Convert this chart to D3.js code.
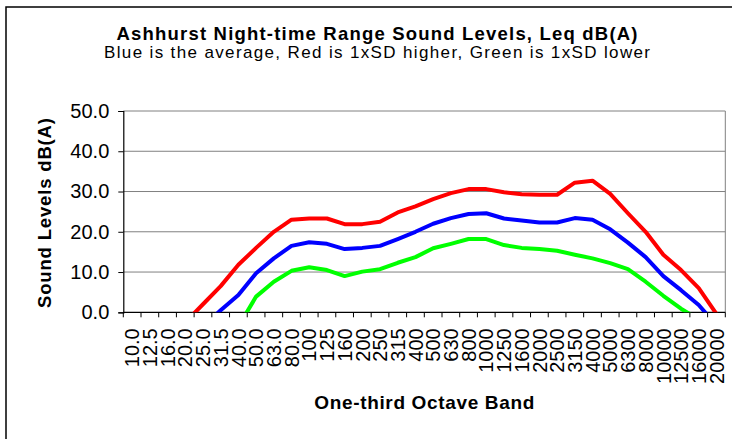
<!DOCTYPE HTML>
<html lang="en">
<head>
    <meta charset="utf-8">
    <title>Ashhurst Night-time Range Sound Levels</title>
    <script src="https://d3js.org/d3.v7.min.js"></script>
    <style>
      html, body {
        margin: 0;
        padding: 0;
        background: #fff;
        overflow: hidden;
      }
      #chart-container {
        width: 732px;
        height: 439px;
      }
      text {
        font-family: "Liberation Sans", Arial, sans-serif;
        fill: #000;
      }
    </style>
</head>
<body>
    <div id="chart-container"></div>
</body>
<script>
// one-third octave band centre frequencies (x categories)
const bands = [`10.0`, `12.5`, `16.0`, `20.0`, `25.0`, `31.5`, `40.0`, `50.0`, `63.0`, `80.0`,
  `100`, `125`, `160`, `200`, `250`, `315`, `400`, `500`, `630`, `800`,
  `1000`, `1250`, `1600`, `2000`, `2500`, `3150`, `4000`, `5000`, `6300`, `8000`,
  `10000`, `12500`, `16000`, `20000`];

// average + 1xSD (red)
const highLevels = [-14, -10, -6.5, -2.5, 2.0, 6.5, 11.8, 16.0, 20.0, 23.0,
  23.3, 23.3, 21.9, 21.9, 22.5, 24.8, 26.3, 28.1, 29.6, 30.6,
  30.6, 29.8, 29.3, 29.2, 29.2, 32.2, 32.7, 29.4, 24.6, 20.0,
  14.3, 10.5, 6.0, -0.4];

// average (blue)
const avgLevels = [-16, -12, -9, -6, -3.5, 0.5, 4.3, 9.7, 13.4, 16.5,
  17.4, 17.0, 15.7, 16.0, 16.5, 18.2, 20.0, 22.0, 23.4, 24.4,
  24.6, 23.3, 22.8, 22.3, 22.3, 23.4, 23.0, 20.6, 17.3, 13.7,
  9.0, 5.5, 1.8, -3.2];

// average - 1xSD (green)
const lowLevels = [-20, -17, -14, -11, -8, -6, -3.5, 3.9, 7.6, 10.3,
  11.2, 10.5, 9.0, 10.1, 10.7, 12.3, 13.7, 15.9, 17.0, 18.2,
  18.2, 16.7, 16.0, 15.7, 15.3, 14.3, 13.4, 12.2, 10.7, 7.6,
  4.1, 0.9, -1.8, -6];

const yTicks = [0, 10, 20, 30, 40, 50];

const titleText = `Ashhurst Night-time Range Sound Levels, Leq dB(A)`;
const subtitleText = `Blue is the average, Red is 1xSD higher, Green is 1xSD lower`;
const xTitle = `One-third Octave Band`;
const yTitle = `Sound Levels dB(A)`;

function main() {
  const width = 732;
  const height = 439;
  // plot area
  const left = 123.3, right = 725.3, top = 111, bottom = 312.3;

  const svg = d3
    .select(`#chart-container`)
    .append(`svg`)
    .attr(`width`, width)
    .attr(`height`, height);

  // chart frame (runs off right / bottom edge like the original)
  svg.append(`rect`)
    .attr(`x`, 6).attr(`y`, 7)
    .attr(`width`, 760).attr(`height`, 460)
    .attr(`fill`, `#fff`)
    .attr(`stroke`, `#000`)
    .attr(`stroke-width`, 1.5);

  // titles
  svg.append(`text`)
    .attr(`x`, 377).attr(`y`, 40)
    .attr(`text-anchor`, `middle`)
    .attr(`font-size`, 18.5).attr(`font-weight`, `bold`)
    .attr(`textLength`, 521).attr(`lengthAdjust`, `spacing`)
    .text(titleText);
  svg.append(`text`)
    .attr(`x`, 377).attr(`y`, 58)
    .attr(`text-anchor`, `middle`)
    .attr(`font-size`, 17)
    .attr(`textLength`, 546).attr(`lengthAdjust`, `spacing`)
    .text(subtitleText);

  const x = d3.scaleBand().domain(bands).range([left, right]).padding(0);
  const y = d3.scaleLinear().domain([0, 50]).range([bottom, top]);

  // gridlines
  svg.append(`g`)
    .selectAll(`line`)
    .data(yTicks.filter(d => d > 0))
    .enter()
    .append(`line`)
    .attr(`x1`, left).attr(`x2`, right)
    .attr(`y1`, d => y(d)).attr(`y2`, d => y(d))
    .attr(`stroke`, `#808080`)
    .attr(`stroke-width`, 1);

  // plot area right edge
  svg.append(`line`)
    .attr(`x1`, right).attr(`x2`, right)
    .attr(`y1`, top).attr(`y2`, bottom)
    .attr(`stroke`, `#808080`);

  // y axis
  const yAxis = svg.append(`g`)
    .attr(`transform`, `translate(${left},0)`)
    .call(d3.axisLeft(y).tickValues(yTicks).tickFormat(d3.format(`.1f`)).tickSize(5).tickPadding(9));
  yAxis.select(`.domain`).attr(`stroke`, `#000`).attr(`stroke-width`, 1.2);
  yAxis.selectAll(`.tick line`).attr(`stroke`, `#000`);
  yAxis.selectAll(`.tick text`)
    .attr(`font-size`, 20)
    .attr(`font-family`, `"Liberation Sans", Arial, sans-serif`);

  // x axis: tick marks on the band edges
  const edges = bands.map(b => x(b)).concat([right]);
  svg.append(`line`)
    .attr(`x1`, left).attr(`x2`, right)
    .attr(`y1`, bottom).attr(`y2`, bottom)
    .attr(`stroke`, `#000`).attr(`stroke-width`, 1.2);
  svg.append(`g`)
    .selectAll(`line`)
    .data(edges)
    .enter()
    .append(`line`)
    .attr(`x1`, d => d).attr(`x2`, d => d)
    .attr(`y1`, bottom).attr(`y2`, bottom + 5)
    .attr(`stroke`, `#000`);

  // x labels, rotated
  svg.append(`g`)
    .selectAll(`text`)
    .data(bands)
    .enter()
    .append(`text`)
    .attr(`transform`, d => `translate(${x(d) + x.bandwidth() / 2},${bottom + 16}) rotate(-90)`)
    .attr(`text-anchor`, `end`)
    .attr(`dy`, `0.36em`)
    .attr(`font-size`, 20)
    .text(d => d);

  // axis titles
  svg.append(`text`)
    .attr(`x`, (left + right) / 2).attr(`y`, 409)
    .attr(`text-anchor`, `middle`)
    .attr(`font-size`, 19).attr(`font-weight`, `bold`)
    .attr(`textLength`, 220).attr(`lengthAdjust`, `spacing`)
    .text(xTitle);
  svg.append(`text`)
    .attr(`transform`, `translate(51,213) rotate(-90)`)
    .attr(`text-anchor`, `middle`)
    .attr(`font-size`, 18.5).attr(`font-weight`, `bold`)
    .attr(`textLength`, 190).attr(`lengthAdjust`, `spacing`)
    .text(yTitle);

  // clip lines to the plot area (values below 0 are cut off)
  svg.append(`clipPath`)
    .attr(`id`, `plot-clip`)
    .append(`rect`)
    .attr(`x`, left).attr(`y`, top - 5)
    .attr(`width`, right - left).attr(`height`, bottom - top + 5);

  const line = d3.line()
    .x((d, i) => x(bands[i]) + x.bandwidth() / 2)
    .y(d => y(d));

  const series = [
    { values: highLevels, color: `#ff0000` },
    { values: avgLevels, color: `#0000ff` },
    { values: lowLevels, color: `#00ff00` }
  ];

  svg.append(`g`)
    .attr(`clip-path`, `url(#plot-clip)`)
    .selectAll(`path`)
    .data(series)
    .enter()
    .append(`path`)
    .attr(`d`, d => line(d.values))
    .attr(`fill`, `none`)
    .attr(`stroke`, d => d.color)
    .attr(`stroke-width`, 4)
    .attr(`stroke-linejoin`, `round`);
}

main();
</script>
</html>
